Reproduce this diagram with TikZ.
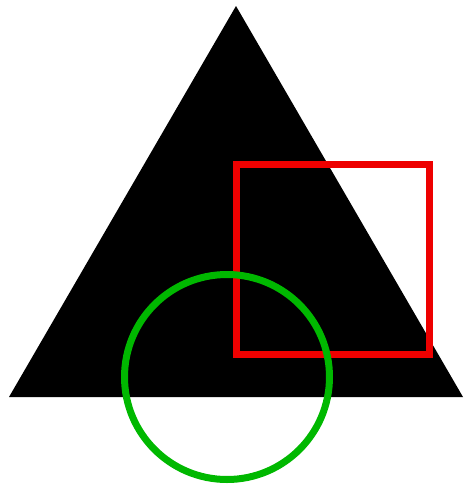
\documentclass[tikz,border=0pt]{standalone}
\definecolor{boxred}{RGB}{238,0,0}
\definecolor{ringgreen}{RGB}{0,184,0}
\begin{document}
\begin{tikzpicture}[x=1pt,y=-1pt]
                    \useasboundingbox (0,0) rectangle (464,485);
                    % Triangle
                    \fill[black] (9,397) -- (236,6) -- (463,397) -- cycle;
                    % Square
                    \draw[boxred, line width=7pt] (236,164.5) rectangle (429.5,354);
                    % Circle
                    \draw[ringgreen, line width=7pt] (227,377) circle (102.5);
                \end{tikzpicture}
\end{document}
